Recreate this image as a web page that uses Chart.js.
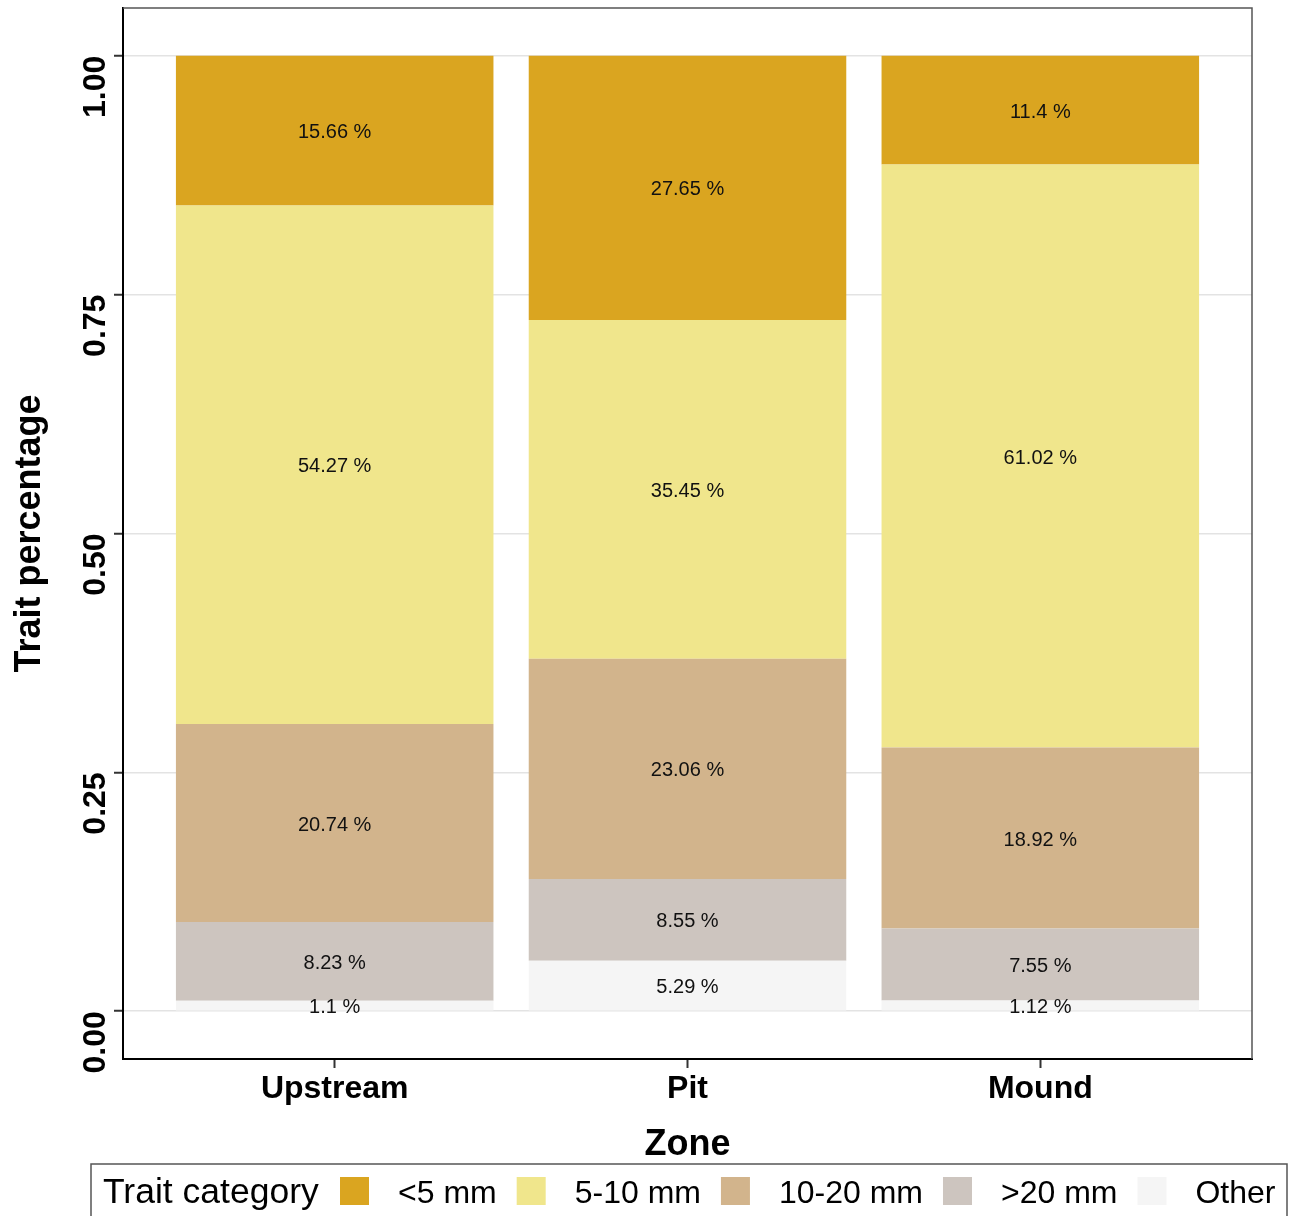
<!DOCTYPE html>
<html>
<head>
<meta charset="utf-8">
<script src="https://cdn.jsdelivr.net/npm/chart.js@4.4.1/dist/chart.umd.min.js"></script>
<style>
  html, body { margin: 0; padding: 0; background: #ffffff; }
  canvas { display: block; }
</style>
</head>
<body>
<canvas id="chart" width="1291" height="1216"></canvas>
<script>
// ---- Data (percent values) ----
const zones = ['Upstream', 'Pit', 'Mound'];
const categoryNames = ['<5 mm', '5-10 mm', '10-20 mm', '>20 mm', 'Other'];
const lt5mm = [15.66, 27.65, 11.4];
const mm5to10 = [54.27, 35.45, 61.02];
const mm10to20 = [20.74, 23.06, 18.92];
const gt20mm = [8.23, 8.55, 7.55];
const otherVals = [1.1, 5.29, 1.12];
const yTickValues = [0, 0.25, 0.5, 0.75, 1.0];

const FONT = '"Liberation Sans", Arial, Helvetica, sans-serif';
const colors = {
  '<5 mm': '#DAA520',
  '5-10 mm': '#F0E68C',
  '10-20 mm': '#D2B48C',
  '>20 mm': '#CDC5BF',
  'Other': '#F5F5F5'
};

function toPoints(arr) {
  return arr.map((v, i) => ({ x: i, y: v / 100, pct: v }));
}

// stacked bottom to top: Other, >20, 10-20, 5-10, <5
const seriesByName = {
  '<5 mm': lt5mm,
  '5-10 mm': mm5to10,
  '10-20 mm': mm10to20,
  '>20 mm': gt20mm,
  'Other': otherVals
};
const stackOrder = ['Other', '>20 mm', '10-20 mm', '5-10 mm', '<5 mm'];
const datasets = stackOrder.map(name => ({
  label: name,
  data: toPoints(seriesByName[name]),
  backgroundColor: colors[name],
  borderWidth: 0,
  barPercentage: 0.9,
  categoryPercentage: 1.0
}));

const decorPlugin = {
  id: 'decor',
  afterDatasetsDraw(chart) {
    const ctx = chart.ctx;
    ctx.save();
    ctx.font = '20px ' + FONT;
    ctx.fillStyle = '#111111';
    ctx.textAlign = 'center';
    ctx.textBaseline = 'middle';
    chart.data.datasets.forEach((ds, di) => {
      const meta = chart.getDatasetMeta(di);
      meta.data.forEach((el, j) => {
        const v = ds.data[j].pct;
        const cy = (el.y + el.base) / 2 + 2;
        ctx.fillText(v + ' %', el.x, cy);
      });
    });
    ctx.restore();
  },
  afterDraw(chart) {
    const ctx = chart.ctx;
    const a = chart.chartArea;
    ctx.save();
    // top and right panel border
    ctx.strokeStyle = '#555555';
    ctx.lineWidth = 1.5;
    ctx.beginPath();
    ctx.moveTo(a.left, a.top);
    ctx.lineTo(a.right, a.top);
    ctx.lineTo(a.right, a.bottom);
    ctx.stroke();

    // legend
    const boxLeft = 91, boxTop = 1164, boxRight = 1287, boxBottom = 1230;
    ctx.strokeStyle = '#555555';
    ctx.lineWidth = 1.5;
    ctx.strokeRect(boxLeft, boxTop, boxRight - boxLeft, boxBottom - boxTop);
    ctx.fillStyle = '#000000';
    ctx.textBaseline = 'alphabetic';
    ctx.textAlign = 'left';
    ctx.font = '35.5px ' + FONT;
    ctx.fillText('Trait category', 103, 1203);
    ctx.font = '32px ' + FONT;
    let x = 340;
    categoryNames.forEach(name => {
      ctx.fillStyle = colors[name];
      ctx.fillRect(x, 1177, 29, 28);
      x += 29 + 29;
      ctx.fillStyle = '#000000';
      ctx.fillText(name, x, 1203);
      x += ctx.measureText(name).width + 20;
    });
    ctx.restore();
  }
};

new Chart(document.getElementById('chart'), {
  type: 'bar',
  data: { datasets },
  options: {
    responsive: false,
    animation: false,
    layout: { padding: { top: 8, right: 39, left: 0, bottom: 0 } },
    plugins: {
      legend: { display: false },
      tooltip: { enabled: false }
    },
    scales: {
      x: {
        type: 'linear',
        min: -0.6,
        max: 2.6,
        offset: false,
        stacked: true,
        afterBuildTicks: s => { s.ticks = zones.map((z, i) => ({ value: i })); },
        afterFit: s => { s.height = 157; s.paddingLeft = 0; s.paddingRight = 0; },
        grid: { offset: false, drawOnChartArea: false, drawTicks: true, tickLength: 9, tickColor: '#333333', tickWidth: 2 },
        border: { color: '#000000', width: 2 },
        ticks: {
          autoSkip: false,
          maxRotation: 0,
          minRotation: 0,
          padding: 5,
          color: '#000000',
          font: { family: FONT, size: 32, weight: 'bold', lineHeight: 1 },
          callback: v => zones[v] !== undefined ? zones[v] : ''
        },
        title: {
          display: true,
          text: 'Zone',
          color: '#000000',
          font: { family: FONT, size: 36, weight: 'bold', lineHeight: 1.2 },
          padding: { top: 0, bottom: 49 }
        }
      },
      y: {
        min: -0.05,
        max: 1.05,
        stacked: true,
        afterBuildTicks: s => { s.ticks = yTickValues.map(v => ({ value: v })); },
        afterFit: s => { s.width = 123; s.paddingTop = 0; s.paddingBottom = 0; },
        grid: { color: '#E3E3E3', lineWidth: 1.5, tickColor: '#333333', tickLength: 9, tickWidth: 2 },
        border: { color: '#000000', width: 2 },
        ticks: {
          minRotation: 90,
          maxRotation: 90,
          padding: 18,
          color: '#000000',
          font: { family: FONT, size: 32, weight: 'bold' },
          callback: v => Number(v).toFixed(2)
        },
        title: {
          display: true,
          text: 'Trait percentage',
          color: '#000000',
          font: { family: FONT, size: 36, weight: 'bold', lineHeight: 1.2 },
          padding: { top: 8, bottom: 0 }
        }
      }
    }
  },
  plugins: [decorPlugin]
});
</script>
</body>
</html>
